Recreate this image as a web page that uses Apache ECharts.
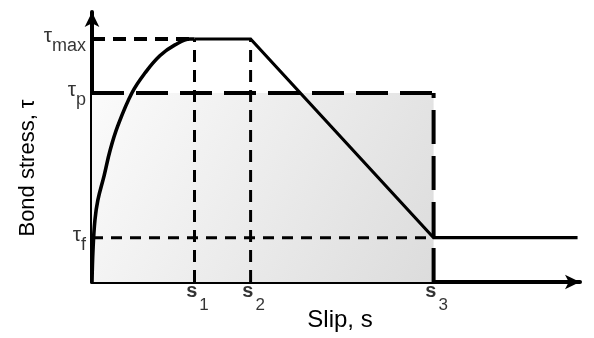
<!DOCTYPE html>
<html>
<head>
<meta charset="utf-8">
<script src="https://cdn.jsdelivr.net/npm/echarts@6/dist/echarts.min.js"></script>
<style>
  html, body { margin: 0; padding: 0; background: #fff; }
  #chart { width: 594px; height: 338px; }
</style>
</head>
<body>
<div id="chart"></div>
<script>
// Characteristic slips (x) and stresses (y), in the axes' own units
const slipSubscripts = ['1', '2', '3'];
const slipValues = [21, 32.5, 70];
const stressSubscripts = ['max', 'p', 'f'];
const stressValues = [90, 70, 16.4];

// Ascending (pre-peak) branch of the bond-slip curve
const ascendingBranch = [
  [0, 0], [0.2, 11.8], [0.6, 22.9], [1.2, 30.3], [2.5, 39.5], [3.7, 48.7],
  [5.3, 57.9], [8.2, 70.1], [10.9, 77.5], [13.9, 83.8], [17.0, 87.8],
  [20.1, 90], [21, 90]
];
// Slip where the residual friction branch stops
const residualEnd = 99.5;

const FONT = '"Liberation Sans", Arial, sans-serif';
const TAU_SIZE = 21, Y_SUB_SIZE = 18, S_SIZE = 20, X_SUB_SIZE = 17;
const [s1, s2, s3] = slipValues;
const [tMax, tP, tF] = stressValues;

// plateau -> linear softening -> constant friction
const softeningBranch = [[s1, tMax], [s2, tMax], [s3, tF], [residualEnd, tF]];

// text width helper so symbol + subscript pairs can be laid out side by side
const measureCtx = document.createElement('canvas').getContext('2d');
function textWidth(str, size, weight) {
  measureCtx.font = (weight || 'normal') + ' ' + size + 'px ' + FONT;
  return measureCtx.measureText(str).width;
}

function dashed(data, width, dash) {
  return {
    type: 'line', data, symbol: 'none', silent: true, z: 3,
    lineStyle: { color: '#000', width, type: dash, cap: 'butt' }
  };
}

function textSeries(items) {
  return {
    type: 'scatter', symbolSize: 0, silent: true, z: 6,
    data: items.map(it => ({
      value: it.value,
      label: {
        show: true, position: 'inside', formatter: it.text,
        align: it.align, verticalAlign: 'middle', offset: it.offset,
        fontFamily: FONT, fontSize: it.size, fontWeight: it.weight || 'normal', color: '#000'
      }
    }))
  };
}

// y-axis marks: τ followed by a lowered subscript, right-aligned next to the axis
const stressSymbols = stressValues.map((v, i) => ({
  value: [0, v], text: 'τ', align: 'right', size: TAU_SIZE,
  offset: [-6 - textWidth(stressSubscripts[i], Y_SUB_SIZE), -3]
}));
const stressSubs = stressValues.map((v, i) => ({
  value: [0, v], text: stressSubscripts[i], align: 'right', size: Y_SUB_SIZE,
  offset: [-6, 7]
}));

// x-axis marks: s with a subscript digit, centred under each slip value
const sW = textWidth('s', S_SIZE, 'bold');
const slipSymbols = slipValues.map((v, i) => {
  const subW = textWidth(slipSubscripts[i], X_SUB_SIZE);
  return { value: [v, 0], text: 's', align: 'center', size: S_SIZE, weight: 'bold',
    offset: [-subW / 2 + 2, 9] };
});
const slipSubs = slipValues.map((v, i) => ({
  value: [v, 0], text: slipSubscripts[i], align: 'center', size: X_SUB_SIZE,
  offset: [sW / 2 + 4, 23]
}));

const chart = echarts.init(document.getElementById('chart'), null, { renderer: 'canvas' });
chart.setOption({
  animation: false,
  backgroundColor: '#fff',
  grid: { left: 92, right: 14, top: 12, bottom: 56, containLabel: false, outerBoundsMode: 'none' },
  xAxis: {
    type: 'value', min: 0, max: 100,
    name: 'Slip, s', nameLocation: 'middle', nameGap: 26,
    nameTextStyle: { fontFamily: FONT, fontSize: 24, color: '#000', padding: [0, 0, 0, 8] },
    axisLine: { show: true, onZero: false, symbol: ['none', 'arrow'], symbolSize: [11, 15],
      lineStyle: { color: '#000', width: 4 } },
    axisTick: { show: false }, axisLabel: { show: false }, splitLine: { show: false }
  },
  yAxis: {
    type: 'value', min: 0, max: 100,
    name: 'Bond stress, τ', nameLocation: 'middle', nameGap: 53, nameRotate: 90,
    nameTextStyle: { fontFamily: FONT, fontSize: 22, color: '#000', padding: [0, 42, 0, 0] },
    axisLine: { show: true, onZero: false, symbol: ['none', 'arrow'], symbolSize: [11, 15],
      lineStyle: { color: '#000', width: 4 } },
    axisTick: { show: false }, axisLabel: { show: false }, splitLine: { show: false }
  },
  series: [
    // shaded energy area under the equivalent plateau
    {
      type: 'line', data: [[0, tP], [s3, tP]], symbol: 'none', silent: true, z: 1,
      lineStyle: { width: 0 },
      areaStyle: {
        opacity: 1,
        color: new echarts.graphic.LinearGradient(0, 0, 1, 1, [
          { offset: 0, color: '#fbfbfb' },
          { offset: 1, color: '#dcdcdc' }
        ])
      }
    },
    dashed([[0, tMax], [s1, tMax]], 4, [13, 8]),
    dashed([[0, tP], [s3, tP]], 4, [32, 12]),
    dashed([[0, tF], [s3, tF]], 3, [11, 8]),
    dashed([[s1, 0], [s1, tMax]], 3, [12, 8]),
    dashed([[s2, 0], [s2, tMax]], 3, [12, 8]),
    dashed([[s3, 0], [s3, tP]], 4, [34, 12]),
    {
      type: 'line', data: ascendingBranch, symbol: 'none', smooth: 0.4, silent: true, z: 5,
      lineStyle: { color: '#000', width: 3.6 }
    },
    {
      type: 'line', data: softeningBranch, symbol: 'none', silent: true, z: 5,
      lineStyle: { color: '#000', width: 3.2, join: 'miter' }
    },
    textSeries(stressSymbols),
    textSeries(stressSubs),
    textSeries(slipSymbols),
    textSeries(slipSubs)
  ]
});
</script>
</body>
</html>
